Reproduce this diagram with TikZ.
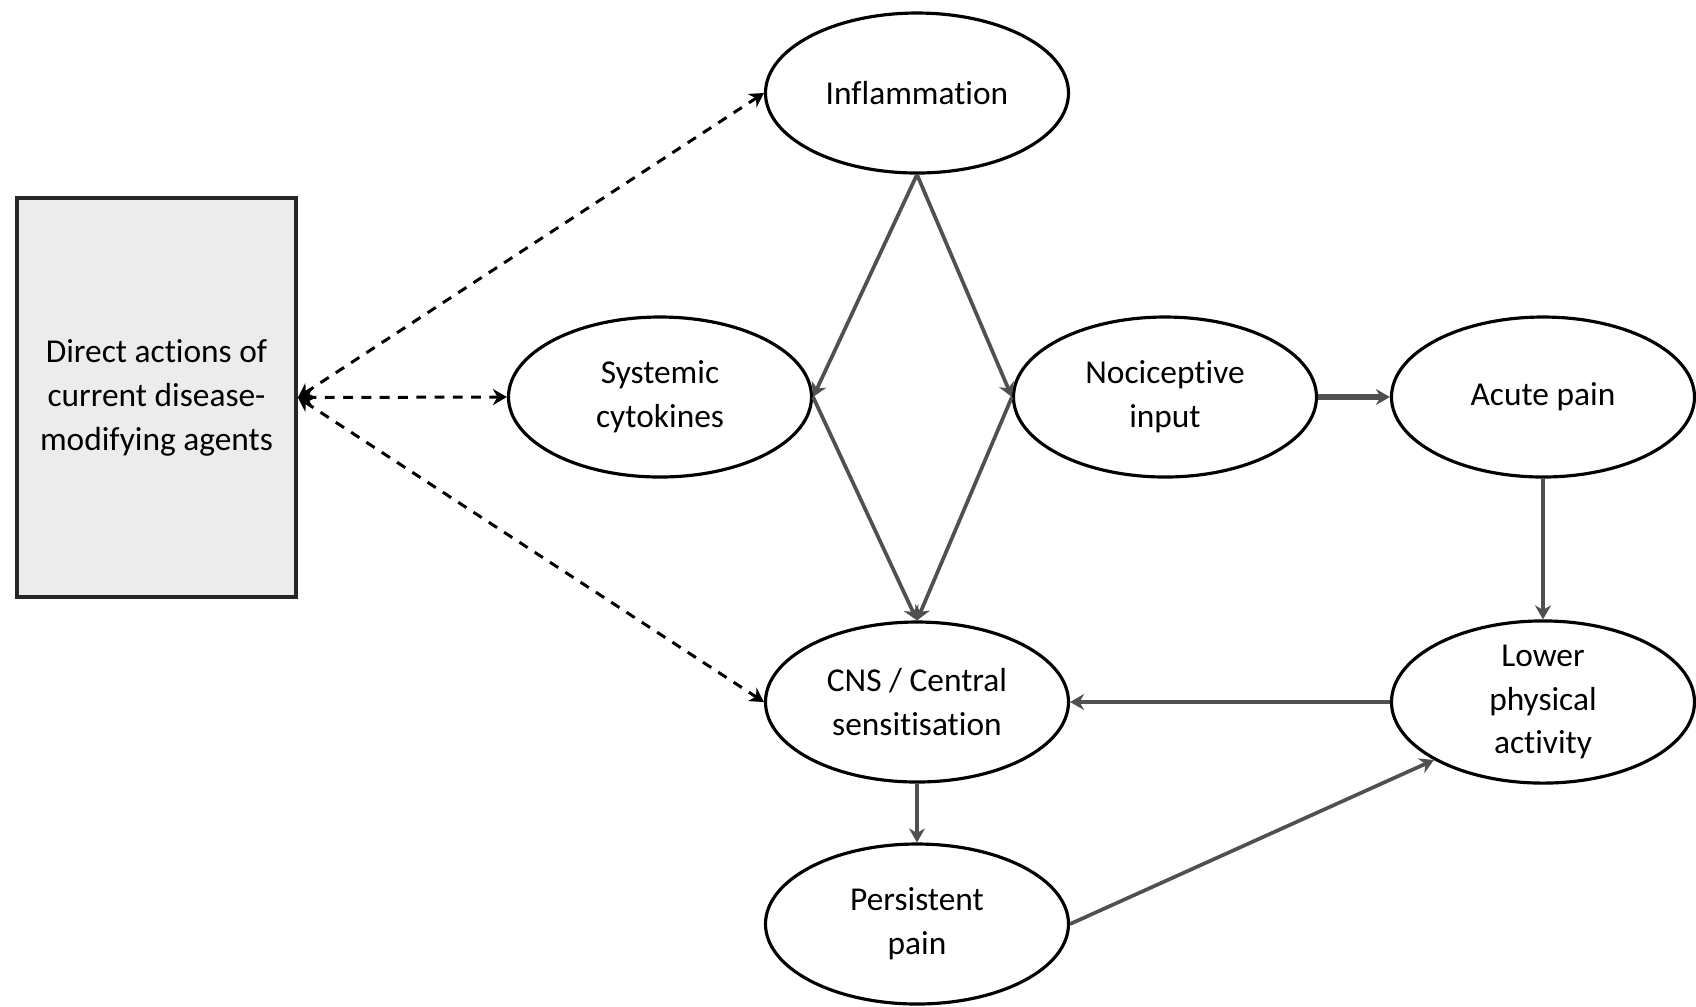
\documentclass[tikz,border=0pt]{standalone}
\usepackage{fontspec}
\setmainfont{Carlito}[Ligatures=NoCommon]
\usetikzlibrary{arrows.meta,shapes.geometric}
\definecolor{linkgray}{HTML}{505050}
\definecolor{boxfill}{HTML}{ECECEC}
\tikzset{
  >={Stealth[length=1.4mm,width=1.6mm]},
  oval/.style={ellipse,draw=black,line width=0.9pt,minimum width=3.03cm,
    minimum height=1.60cm,inner sep=0pt,align=center,
    font=\fontsize{9.5}{12.5}\selectfont},
  dmabox/.style={draw=black!85,fill=boxfill,line width=1.1pt,minimum width=2.79cm,
    minimum height=3.99cm,inner sep=2pt,align=center,
    font=\fontsize{9.5}{12.5}\selectfont},
  link/.style={->,draw=linkgray,line width=1.05pt},
  thicklink/.style={->,draw=linkgray,line width=1.6pt},
  dlink/.style={<->,draw=black,line width=0.85pt,dash pattern=on 2.8pt off 2.4pt},
}
\begin{document}
\begin{tikzpicture}
  \useasboundingbox (0,0) rectangle (16.96,-10.06);
  \node[dmabox] (dma) at (1.565,-3.975) {Direct actions of\\current disease-\\modifying agents};
  \node[oval] (infl) at (9.17,-0.93) {Inflammation};
  \node[oval] (sys) at (6.60,-3.97) {Systemic\\cytokines};
  \node[oval] (noci) at (11.65,-3.97) {Nociceptive\\input};
  \node[oval] (acute) at (15.43,-3.97) {Acute pain};
  \node[oval] (cns) at (9.17,-7.02) {CNS / Central\\sensitisation};
  \node[oval] (lower) at (15.43,-7.02) {Lower\\physical\\activity};
  \node[oval] (pers) at (9.17,-9.24) {Persistent\\pain};
  % dashed links from the box
  \draw[dlink] (dma.east) -- (infl.west);
  \draw[dlink] (dma.east) -- (sys.west);
  \draw[dlink] (dma.east) -- (cns.west);
  % solid links
  \draw[link] (infl.south) -- (sys.east);
  \draw[link] (infl.south) -- (noci.west);
  \draw[link] (sys.east) -- (cns.north);
  \draw[link] (noci.west) -- (cns.north);
  \draw[thicklink] (noci.east) -- (acute.west);
  \draw[link] (acute.south) -- (lower.north);
  \draw[link] (lower.west) -- (cns.east);
  \draw[link] (cns.south) -- (pers.north);
  \draw[link] (pers.east) -- (lower.208);
\end{tikzpicture}
\end{document}
